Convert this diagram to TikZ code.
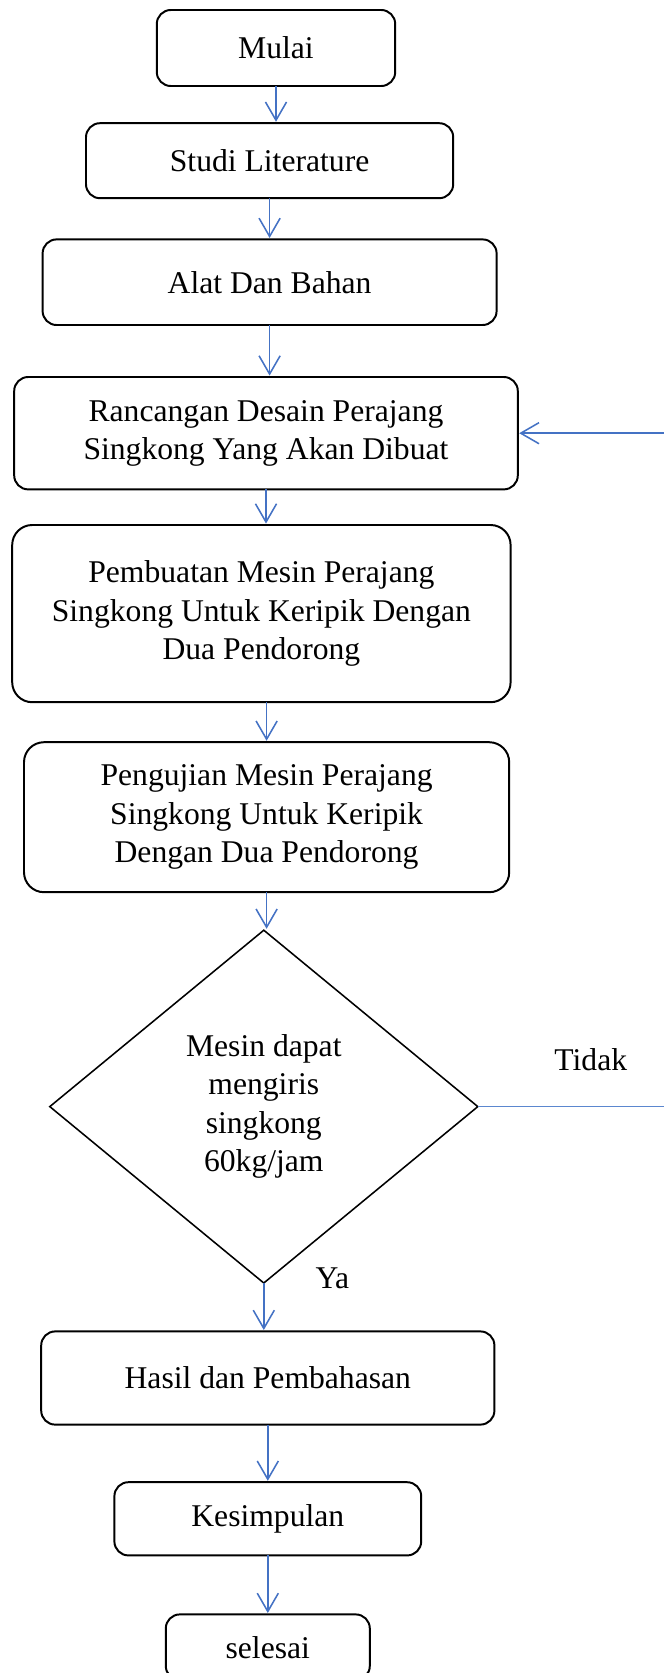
\documentclass[tikz,border=0pt]{standalone}
\usepackage{fontspec}
\setmainfont{Liberation Serif}
\usetikzlibrary{positioning,shapes.geometric,arrows.meta}
\definecolor{flowblue}{HTML}{4472C4}
\definecolor{lineblue}{HTML}{5B87CF}
\begin{document}
\begin{tikzpicture}[shorten >=1pt,
            font=\fontsize{22.5}{27.3}\selectfont,
            stepbox/.style={rectangle,draw,line width=1.4pt,rounded corners=0.35cm,align=center,inner sep=2pt,outer sep=0pt},
            decision/.style={diamond,draw,line width=1.1pt,align=center,inner sep=0pt,outer sep=0pt},
            flow/.style={draw=flowblue,line width=1.1pt,-{Straight Barb[length=13pt,width=15pt]}},
            noline/.style={draw=lineblue,line width=0.8pt}]

        \useasboundingbox (0,0) rectangle (16.6,-41.825);

        % Define vertices
        \node[stepbox,minimum width=5.96cm,minimum height=1.9cm] (mulai) at (6.9,-1.2) {Mulai};
        \node[stepbox,minimum width=9.18cm,minimum height=1.875cm] (studi) [below=0.93cm of mulai,xshift=-0.16cm] {Studi Literature};
        \node[stepbox,minimum width=11.35cm,minimum height=2.14cm] (alat) [below=1.03cm of studi] {Alat Dan Bahan};
        \node[stepbox,minimum width=12.59cm,minimum height=2.81cm] (rancangan) [below=1.3cm of alat,xshift=-0.09cm] {Rancangan Desain Perajang\\Singkong Yang Akan Dibuat};
        \node[stepbox,minimum width=12.46cm,minimum height=4.43cm,rounded corners=0.5cm] (pembuatan) [below=0.89cm of rancangan,xshift=-0.115cm] {Pembuatan Mesin Perajang\\Singkong Untuk Keripik Dengan\\Dua Pendorong};
        \node[stepbox,minimum width=12.13cm,minimum height=3.75cm,rounded corners=0.5cm] (pengujian) [below=1cm of pembuatan,xshift=0.13cm] {Pengujian Mesin Perajang\\Singkong Untuk Keripik\\Dengan Dua Pendorong};
        \node[decision,minimum width=10.7cm,minimum height=8.82cm] (cek) [below=0.95cm of pengujian,xshift=-0.07cm] {Mesin dapat\\mengiris\\singkong\\60kg/jam};
        \node[stepbox,minimum width=11.33cm,minimum height=2.33cm] (hasil) [below=1.21cm of cek,xshift=0.1cm] {Hasil dan Pembahasan};
        \node[stepbox,minimum width=7.67cm,minimum height=1.83cm] (kesimpulan) [below=1.44cm of hasil] {Kesimpulan};
        \node[stepbox,minimum width=5.1cm,minimum height=1.64cm] (selesai) [below=1.475cm of kesimpulan] {selesai};

        % Labels of the decision
        \node (tidak) at (14.77,-26.5) {Tidak};
        \node (ya) at (8.31,-31.95) {Ya};
        \coordinate (rim) at (16.6,0);

        % Draw edges
        \path[every edge/.style={flow}]
            (mulai.south) edge (mulai.south |- studi.north)
            (studi.south) edge (studi.south |- alat.north)
            (alat.south) edge (alat.south |- rancangan.north)
            (rancangan.south) edge (rancangan.south |- pembuatan.north)
            (pengujian.north |- pembuatan.south) edge (pengujian.north)
            (pengujian.south) edge (pengujian.south |- cek.north)
            (cek.south) edge (cek.south |- hasil.north)
            (hasil.south) edge (hasil.south |- kesimpulan.north)
            (kesimpulan.south) edge (kesimpulan.south |- selesai.north)
            (rim |- rancangan.east) edge (rancangan.east);
        \draw[noline,shorten >=0pt] (cek.east) -- (cek.east -| rim);

        \end{tikzpicture}
\end{document}
